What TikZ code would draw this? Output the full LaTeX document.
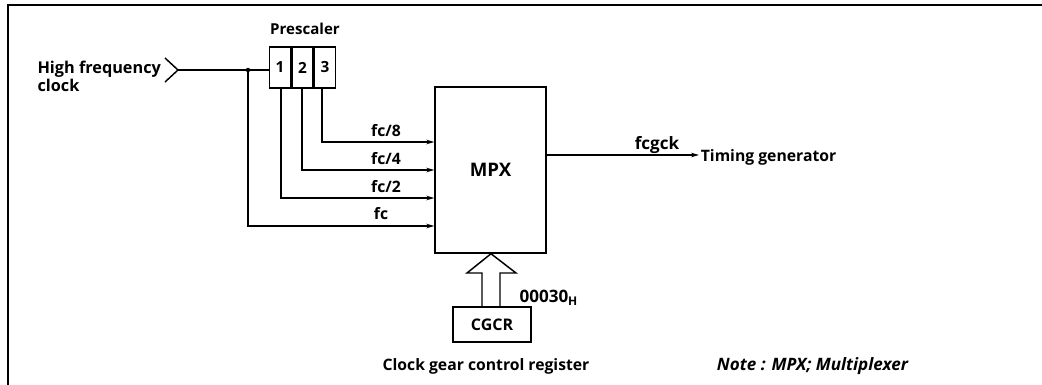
\documentclass[tikz,border=0pt]{standalone}
\usepackage{fontspec}
\setmainfont{Open Sans}
\usetikzlibrary{arrows.meta}
\newcommand{\fsz}[1]{\fontsize{#1}{#1}\selectfont\bfseries}
\begin{document}
\begin{tikzpicture}[x=0.75pt,y=-0.75pt,
  line width=0.8pt,
  cell/.style={draw,line width=1.1pt,minimum width=15.75pt,minimum height=30.75pt,inner sep=0pt,font=\fsz{11.5}},
  bigbox/.style={draw,line width=1.1pt,minimum width=83.25pt,minimum height=124.5pt,inner sep=0pt},
  regbox/.style={draw,line width=1.7pt,minimum width=58.5pt,minimum height=26.25pt,inner sep=0pt},
  sig/.style={-{Stealth[length=6pt,width=3.4pt]}},
  lbl/.style={inner sep=1pt,font=\fsz{11.8}}]
\useasboundingbox (0,0) rectangle (1042,385);
% frame
\draw[line width=1.1pt] (8,385) -- (8,5) -- (1042,5);
% input
\node[align=left,anchor=west,inner sep=0pt,font=\fontsize{12.2}{13.5}\selectfont\bfseries] (hf) at (37,76) {High frequency\\clock};
\coordinate (chev) at (178,70);
\draw[line width=1.1pt] (165,58) -- (chev) -- (165,82);
% prescaler
\node[cell] (p1) at (280,67.5) {1};
\node[cell,anchor=west] (p2) at (p1.east) {2};
\node[cell,anchor=west] (p3) at (p2.east) {3};
\node[font=\fsz{11.3}] (pre) at (305,29) {Prescaler};
\coordinate (j) at (248,70);
\draw (chev) -- (j) -- (p1.west |- j);
\fill (j) circle (2.2);
% MPX
\node[bigbox,font=\fsz{14}] (mpx) at (490.5,170) {MPX};
\coordinate (i8) at (mpx.west |- 0,142);
\coordinate (i4) at (mpx.west |- 0,170);
\coordinate (i2) at (mpx.west |- 0,198);
\coordinate (i1) at (mpx.west |- 0,226);
\draw[sig] (p3.south -| 322,0) |- (i8);
\draw[sig] (p2.south -| 302,0) |- (i4);
\draw[sig] (p1.south -| 281,0) |- (i2);
\draw[sig] (j) |- (i1);
\node[lbl] at (386,131) {fc/8};
\node[lbl] at (386,159) {fc/4};
\node[lbl] at (386,187) {fc/2};
\node[lbl] at (381,214) {fc};
% output
\node[anchor=west,inner sep=1pt,font=\fsz{11.8}] (tg) at (699,157) {Timing generator};
\draw[sig] (mpx.east |- 0,155) -- (tg.west |- 0,155);
\node[lbl,font=\fsz{12.8}] at (657,145) {fcgck};
% CGCR
\node[regbox,font=\fsz{12}] (cgcr) at (492,324.5) {CGCR};
\draw[line width=1.1pt] (cgcr.north -| 482,0) -- (482,273) -- (467,273) -- (mpx.south -| 491,0) -- (516,273) -- (500,273) -- (cgcr.north -| 500,0);
\node[anchor=west,inner sep=0pt,font=\fsz{12.8}] (addr) at (519,298) {00030\textsubscript{H}};
\node[font=\fsz{11.8}] (cgl) at (486,366) {Clock gear control register};
\node[anchor=west,font=\fsz{12.8}\itshape] (note) at (712,366) {Note : MPX; Multiplexer};
\end{tikzpicture}
\end{document}
